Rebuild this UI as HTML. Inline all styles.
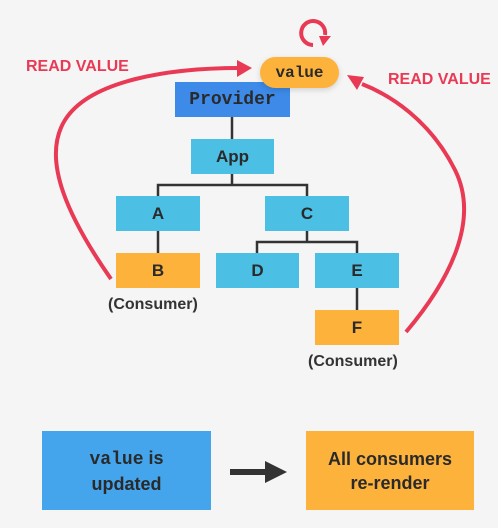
<!DOCTYPE html>
<html><head><style>
body{margin:0;width:498px;height:528px;background:#f5f5f5;position:relative;overflow:hidden;font-family:"Liberation Sans",sans-serif;}
.b{position:absolute;display:flex;align-items:center;justify-content:center;font-weight:bold;color:#2a2a2a;font-size:17px;}
.cy{background:#4bbfe4;}
.or{background:#fdb23c;}
.m{font-family:"Liberation Mono",monospace;}
.t{position:absolute;font-weight:bold;color:#333;font-size:16px;}
.r{position:absolute;font-weight:bold;color:#e93a55;font-size:16px;}
</style></head><body>
<svg width="498" height="528" style="position:absolute;left:0;top:0">
<g stroke="#333" stroke-width="2.5" fill="none">
<line x1="232" y1="117" x2="232" y2="139"/>
<polyline points="158,196 158,185 307,185 307,196"/>
<line x1="232" y1="174" x2="232" y2="185"/>
<line x1="158" y1="231" x2="158" y2="253"/>
<polyline points="257,253 257,242 357,242 357,253"/>
<line x1="307" y1="231" x2="307" y2="242"/>
<line x1="357" y1="288" x2="357" y2="310"/>
</g>
<g stroke="#e93a55" stroke-width="4" fill="none">
<path d="M111,279 C70,220 40,160 65,120 C90,80 170,68 240,68"/>
<path d="M406,332 C450,280 480,220 455,170 C430,120 390,95 362,84"/>
<path d="M313,45 A12,12 0 1 1 325,35"/>
</g>
<polygon points="252,68 237,60 237,77" fill="#e93a55"/>
<polygon points="347,75 364,77 357,90" fill="#e93a55"/>
<polygon points="319,36 331,36 323,46" fill="#e93a55"/>
<line x1="230" y1="472" x2="268" y2="472" stroke="#333" stroke-width="6"/>
<polygon points="265,461 287,472 265,483" fill="#333"/>
</svg>
<div class="r" style="left:26px;top:58px">READ VALUE</div>
<div class="r" style="left:388px;top:71px">READ VALUE</div>
<div class="b m" style="left:175px;top:82px;width:115px;height:35px;background:#3d8ae8;font-size:18px">Provider</div>
<div class="b or m" style="left:260px;top:57px;width:79px;height:31px;border-radius:16px;font-size:16px;box-shadow:0 2px 6px rgba(0,0,0,.15)">value</div>
<div class="b cy" style="left:191px;top:139px;width:83px;height:35px">App</div>
<div class="b cy" style="left:116px;top:196px;width:84px;height:35px">A</div>
<div class="b cy" style="left:265px;top:196px;width:84px;height:35px">C</div>
<div class="b or" style="left:116px;top:253px;width:84px;height:35px">B</div>
<div class="b cy" style="left:216px;top:253px;width:83px;height:35px">D</div>
<div class="b cy" style="left:315px;top:253px;width:84px;height:35px">E</div>
<div class="b or" style="left:315px;top:310px;width:84px;height:35px">F</div>
<div class="t" style="left:108px;top:296px">(Consumer)</div>
<div class="t" style="left:308px;top:353px">(Consumer)</div>
<div class="b" style="left:42px;top:431px;width:169px;height:79px;background:#44a5ec;font-size:18px;text-align:center;line-height:24px"><div><span class="m">value</span> is<br>updated</div></div>
<div class="b or" style="left:306px;top:431px;width:168px;height:79px;font-size:18px;text-align:center;line-height:24px"><div>All consumers<br>re-render</div></div>
</body></html>
